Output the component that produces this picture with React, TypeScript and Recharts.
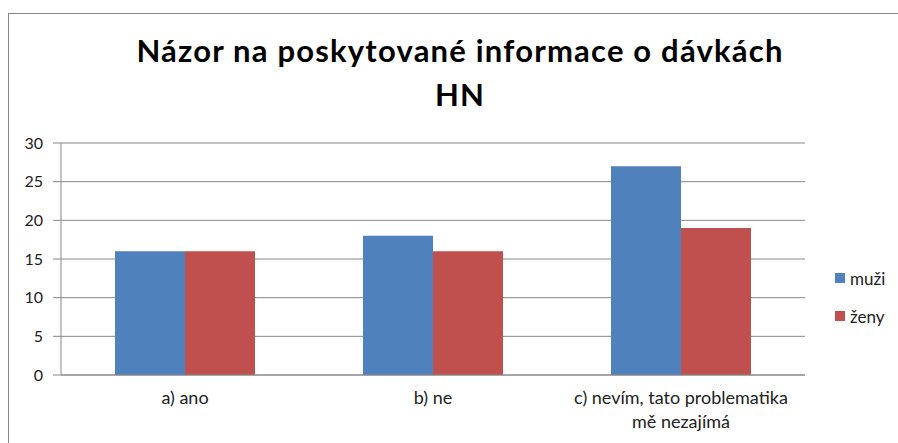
import React from "react"
import { Bar, BarChart, CartesianGrid, Legend, XAxis, YAxis } from "recharts"

const categories = ["a) ano", "b) ne", "c) nevím, tato problematika mě nezajímá"]
const muzi = [16, 18, 27]
const zeny = [16, 16, 19]
const yTicks = [0, 5, 10, 15, 20, 25, 30]

const seriesNames = ["muži", "ženy"]
const colors = ["#4F81BD", "#C0504D"]

const data = categories.map((name, i) => ({ name, muzi: muzi[i], zeny: zeny[i] }))

const FONT = "Lato, 'Open Sans', sans-serif"
const TEXT_COLOR = "#222"
const LINE = "#888888"

// greedy word wrap by character count
function wrap(label: string, maxChars: number) {
  const lines: string[] = []
  let cur = ""
  for (const w of label.split(" ")) {
    const next = cur ? cur + " " + w : w
    if (next.length > maxChars && cur) {
      lines.push(cur)
      cur = w
    } else {
      cur = next
    }
  }
  if (cur) lines.push(cur)
  return lines
}

function CategoryTick(props: any) {
  const { x, y, payload } = props
  const lines = wrap(String(payload.value), 28)
  return (
    <text x={x} y={y + 21} textAnchor="middle" fontFamily={FONT} fontSize={18} fill={TEXT_COLOR}>
      {lines.map((l, i) => (
        <tspan key={i} x={x} dy={i === 0 ? 0 : 24}>
          {l}
        </tspan>
      ))}
    </text>
  )
}

function LegendBox() {
  return (
    <div style={{ fontFamily: FONT, fontSize: 17, color: TEXT_COLOR }}>
      {seriesNames.map((s, i) => (
        <div key={s} style={{ display: "flex", alignItems: "center", height: 38 }}>
          <span style={{ width: 10, height: 10, background: colors[i], marginRight: 5 }} />
          <span>{s}</span>
        </div>
      ))}
    </div>
  )
}

export default function App() {
  return (
    <div style={{ position: "fixed", left: 0, top: 0, width: 898, height: 443, overflow: "hidden", background: "#fff" }}>
      <div
        style={{
          position: "absolute",
          left: 8,
          top: 13,
          width: 900,
          height: 440,
          borderLeft: "1px solid #868686",
          borderTop: "1px solid #868686",
        }}
      >
        <div
          style={{
            position: "absolute",
            left: 0,
            top: 14,
            width: 902,
            textAlign: "center",
            fontFamily: FONT,
            fontWeight: 700,
            fontSize: 31,
            letterSpacing: 1.2,
            lineHeight: "44px",
            color: "#000",
          }}
        >
          Názor na poskytované informace o dávkách
          <br />
          HN
        </div>
        <div style={{ position: "absolute", left: 0, top: 0 }}>
          <BarChart
            width={889}
            height={429}
            data={data}
            margin={{ top: 129, right: 93, left: 0, bottom: 38 }}
            barCategoryGap={54}
            barGap={0}
          >
            <CartesianGrid vertical={false} stroke={LINE} strokeDasharray="" />
            <XAxis
              dataKey="name"
              tick={<CategoryTick />}
              tickLine={false}
              axisLine={{ stroke: LINE }}
              interval={0}
            />
            <YAxis
              width={52}
              domain={[0, 30]}
              ticks={yTicks}
              tickSize={8}
              tickMargin={10}
              tickLine={{ stroke: LINE }}
              axisLine={{ stroke: LINE }}
              tick={{ fontFamily: FONT, fontSize: 16, fill: TEXT_COLOR }}
            />
            <Legend
              layout="horizontal"
              align="center"
              verticalAlign="middle"
              content={<LegendBox />}
              wrapperStyle={{ left: 826, top: 245, width: 70 }}
            />
            <Bar dataKey="muzi" name={seriesNames[0]} fill={colors[0]} isAnimationActive={false} />
            <Bar dataKey="zeny" name={seriesNames[1]} fill={colors[1]} isAnimationActive={false} />
          </BarChart>
        </div>
      </div>
    </div>
  )
}
